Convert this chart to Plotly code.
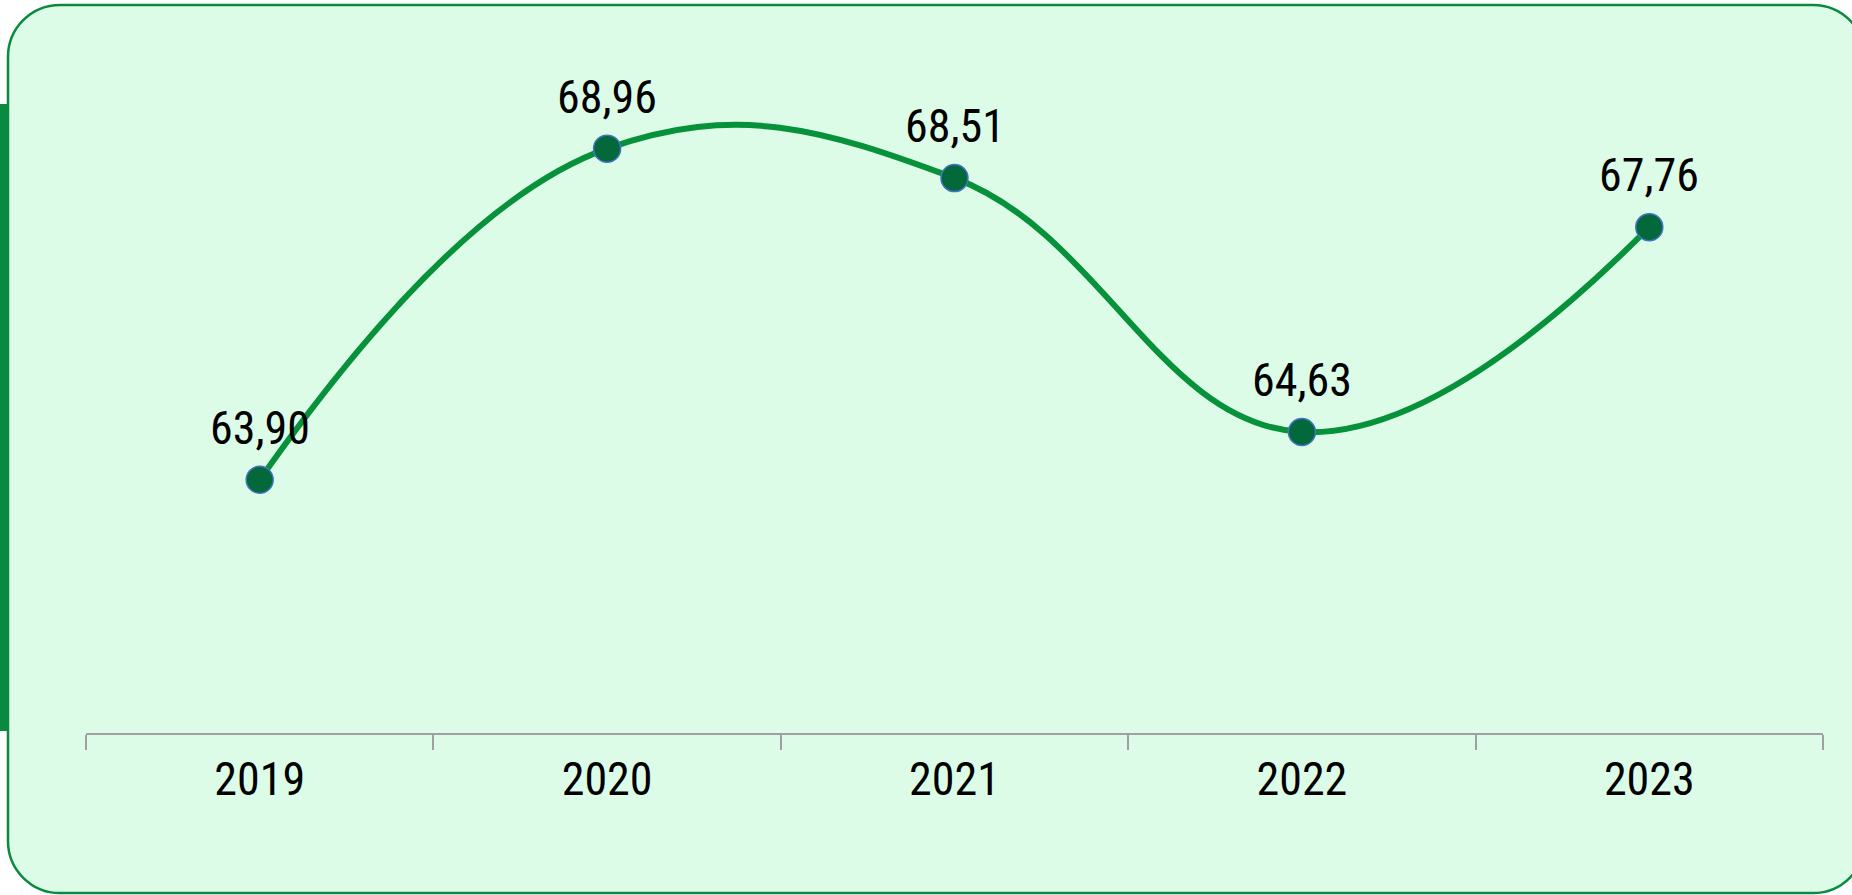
import plotly.graph_objects as go

years = ["2019", "2020", "2021", "2022", "2023"]
values = [63.90, 68.96, 68.51, 64.63, 67.76]
labels = ["63,90", "68,96", "68,51", "64,63", "67,76"]

W, H = 1852, 895
# plot area in pixels
L, R, T, B = 86, 1823, 40, 733

FONT = "Liberation Sans Narrow, Arial Narrow, Roboto Condensed, Liberation Sans, sans-serif"


def px(x):
    return (x - L) / (R - L)


def py(y):
    return (B - y) / (B - T)


def rounded_rect(left, top, right, bottom, r):
    k = 0.5523 * r
    pts = [
        ("M", [(left + r, top)]),
        ("L", [(right - r, top)]),
        ("C", [(right - r + k, top), (right, top + r - k), (right, top + r)]),
        ("L", [(right, bottom - r)]),
        ("C", [(right, bottom - r + k), (right - r + k, bottom), (right - r, bottom)]),
        ("L", [(left + r, bottom)]),
        ("C", [(left + r - k, bottom), (left, bottom - r + k), (left, bottom - r)]),
        ("L", [(left, top + r)]),
        ("C", [(left, top + r - k), (left + r - k, top), (left + r, top)]),
    ]
    out = []
    for cmd, coords in pts:
        out.append(cmd + " " + " ".join(f"{px(x):.5f},{py(y):.5f}" for x, y in coords))
    return " ".join(out) + " Z"


fig = go.Figure()

fig.add_trace(go.Scatter(
    x=years,
    y=values,
    mode="lines+markers",
    line=dict(color="#07913B", width=6, shape="spline", smoothing=1.2),
    marker=dict(size=27, color="#03683A", line=dict(color="#4472C4", width=1.5)),
    hoverinfo="skip",
    cliponaxis=False,
))

# labels above the points (category index used as x position)
for i, (v, lab) in enumerate(zip(values, labels)):
    fig.add_annotation(
        x=i, y=v, text=lab, showarrow=False, yshift=52,
        font=dict(family=FONT, size=46, color="#000000"),
    )

fig.update_layout(
    width=W,
    height=H,
    margin=dict(l=L, r=W - R, t=T, b=H - B),
    paper_bgcolor="white",
    plot_bgcolor="rgba(0,0,0,0)",
    showlegend=False,
    shapes=[
        dict(type="path", xref="paper", yref="paper", layer="below",
             path=rounded_rect(8, 5, 1865, 893, 52),
             fillcolor="#DCFCE8", line=dict(color="#0A8A3E", width=2.5)),
        dict(type="rect", xref="paper", yref="paper", layer="below",
             x0=px(0), x1=px(9), y0=py(731), y1=py(104),
             fillcolor="#0A8A3E", line=dict(width=0)),
    ],
    xaxis=dict(
        type="category",
        categoryorder="array",
        categoryarray=years,
        range=[-0.5, len(years) - 0.5],
        showgrid=False,
        zeroline=False,
        showline=True,
        linecolor="#A0A0A0",
        linewidth=1.5,
        ticks="outside",
        tickson="boundaries",
        ticklen=15,
        tickwidth=1.5,
        tickcolor="#A0A0A0",
        tickangle=0,
        tickfont=dict(family=FONT, size=46, color="#000000"),
        ticklabelstandoff=5,
        fixedrange=True,
    ),
    yaxis=dict(
        range=[60.03, 70.62],
        visible=False,
        showgrid=False,
        fixedrange=True,
    ),
)

# drop the browser's default body margin so the figure sits at the page corner
fig.write_html("out.html", config={"displayModeBar": False},
               post_script="document.body.style.margin='0';")
